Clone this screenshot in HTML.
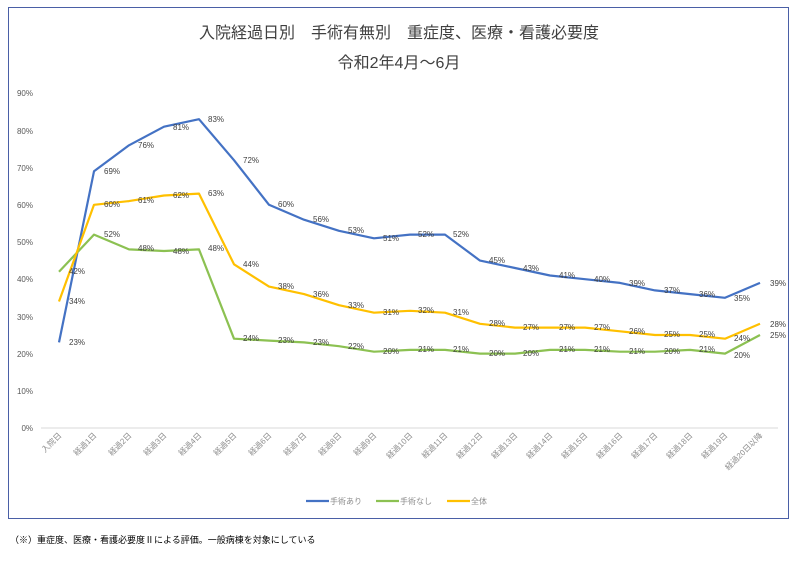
<!DOCTYPE html>
<html><head><meta charset="utf-8"><style>
body{margin:0;background:#fff;width:799px;height:560px;overflow:hidden}
svg text{font-family:"Liberation Sans","Noto Sans CJK JP",sans-serif}
</style></head><body>
<svg width="799" height="560" viewBox="0 0 799 560" xmlns="http://www.w3.org/2000/svg">
<rect x="8.5" y="7.5" width="780" height="511" fill="#fff" stroke="#4a5fa6" stroke-width="1"/>
<text x="399" y="38" font-size="16" text-anchor="middle" fill="#404040">入院経過日別　手術有無別　重症度、医療・看護必要度</text>
<text x="399" y="68" font-size="16" text-anchor="middle" fill="#404040">令和2年4月～6月</text>
<g font-size="8" fill="#595959" text-anchor="end">
<text x="33" y="96">90%</text><text x="33" y="134">80%</text><text x="33" y="171">70%</text>
<text x="33" y="208">60%</text><text x="33" y="245">50%</text><text x="33" y="282">40%</text>
<text x="33" y="320">30%</text><text x="33" y="357">20%</text><text x="33" y="394">10%</text>
<text x="33" y="431">0%</text>
</g>
<line x1="41" y1="428" x2="778" y2="428" stroke="#d9d9d9"/>
<g font-size="8" fill="#8c8c8c" text-anchor="end">
<text transform="translate(62,436) rotate(-45)">入院日</text>
<text transform="translate(97,436) rotate(-45)">経過1日</text>
<text transform="translate(132,436) rotate(-45)">経過2日</text>
<text transform="translate(167,436) rotate(-45)">経過3日</text>
<text transform="translate(202,436) rotate(-45)">経過4日</text>
<text transform="translate(237,436) rotate(-45)">経過5日</text>
<text transform="translate(272,436) rotate(-45)">経過6日</text>
<text transform="translate(307,436) rotate(-45)">経過7日</text>
<text transform="translate(342,436) rotate(-45)">経過8日</text>
<text transform="translate(377,436) rotate(-45)">経過9日</text>
<text transform="translate(413,436) rotate(-45)">経過10日</text>
<text transform="translate(448,436) rotate(-45)">経過11日</text>
<text transform="translate(483,436) rotate(-45)">経過12日</text>
<text transform="translate(518,436) rotate(-45)">経過13日</text>
<text transform="translate(553,436) rotate(-45)">経過14日</text>
<text transform="translate(588,436) rotate(-45)">経過15日</text>
<text transform="translate(623,436) rotate(-45)">経過16日</text>
<text transform="translate(658,436) rotate(-45)">経過17日</text>
<text transform="translate(693,436) rotate(-45)">経過18日</text>
<text transform="translate(728,436) rotate(-45)">経過19日</text>
<text transform="translate(763,436) rotate(-45)">経過20日以降</text>
</g>
<g fill="none" stroke-width="2.2" stroke-linejoin="round">
<polyline stroke="#4472c4" points="59,342.4 94,171.3 129,145.3 164,126.7 199,119.2 234,160.2 269,204.8 304,219.7 339,230.8 374,238.3 410,234.6 445,234.6 480,260.6 515,268 550,275.5 585,279.2 620,282.9 655,290.4 690,294.1 725,297.8 760,282.9"/>
<polyline stroke="#8cc152" stroke="#92d050" points="59,271.8 94,234.6 129,249.4 164,251 199,249.4 234,338.7 269,340.6 304,342.4 339,346.2 374,351.7 410,349.9 445,349.9 480,353.6 515,353.6 550,349.9 585,349.9 620,351.7 655,351.7 690,349.9 725,353.6 760,335"/>
<polyline stroke="#ffc000" points="59,301.5 94,204.8 129,201.1 164,195.5 199,193.6 234,264.3 269,286.6 304,294.1 339,305.2 374,312.7 410,310.8 445,312.7 480,323.8 515,327.6 550,327.6 585,327.6 620,331.3 655,335 690,335 725,338.7 760,323.8"/>
</g>
<g font-size="8" fill="#404040">
<text x="69" y="345">23%</text><text x="104" y="174">69%</text><text x="138" y="148">76%</text><text x="173" y="130">81%</text><text x="208" y="122">83%</text><text x="243" y="163">72%</text><text x="278" y="207">60%</text><text x="313" y="222">56%</text><text x="348" y="233">53%</text><text x="383" y="241">51%</text><text x="418" y="237">52%</text><text x="453" y="237">52%</text><text x="489" y="263">45%</text><text x="523" y="271">43%</text><text x="559" y="278">41%</text><text x="594" y="282">40%</text><text x="629" y="286">39%</text><text x="664" y="293">37%</text><text x="699" y="297">36%</text><text x="734" y="301">35%</text><text x="770" y="286">39%</text>
<text x="69" y="274">42%</text><text x="104" y="237">52%</text><text x="138" y="251">48%</text><text x="173" y="254">48%</text><text x="208" y="251">48%</text><text x="243" y="341">24%</text><text x="278" y="343">23%</text><text x="313" y="345">23%</text><text x="348" y="349">22%</text><text x="383" y="354">20%</text><text x="418" y="352">21%</text><text x="453" y="352">21%</text><text x="489" y="356">20%</text><text x="523" y="356">20%</text><text x="559" y="352">21%</text><text x="594" y="352">21%</text><text x="629" y="354">21%</text><text x="664" y="354">20%</text><text x="699" y="352">21%</text><text x="734" y="358">20%</text><text x="770" y="338">25%</text>
<text x="69" y="304">34%</text><text x="104" y="207">60%</text><text x="138" y="203">61%</text><text x="173" y="198">62%</text><text x="208" y="196">63%</text><text x="243" y="267">44%</text><text x="278" y="289">38%</text><text x="313" y="297">36%</text><text x="348" y="308">33%</text><text x="383" y="315">31%</text><text x="418" y="313">32%</text><text x="453" y="315">31%</text><text x="489" y="326">28%</text><text x="523" y="330">27%</text><text x="559" y="330">27%</text><text x="594" y="330">27%</text><text x="629" y="334">26%</text><text x="664" y="337">25%</text><text x="699" y="337">25%</text><text x="734" y="341">24%</text><text x="770" y="327">28%</text>
</g>
<g font-size="8" fill="#8c8c8c">
<line x1="306" y1="501" x2="329" y2="501" stroke="#4472c4" stroke-width="2.2"/><text x="330" y="504">手術あり</text>
<line x1="376" y1="501" x2="399" y2="501" stroke="#8cc152" stroke-width="2.2"/><text x="400" y="504">手術なし</text>
<line x1="447" y1="501" x2="470" y2="501" stroke="#ffc000" stroke-width="2.2"/><text x="471" y="504">全体</text>
</g>
<text x="10" y="543" font-size="9" fill="#000">（※）重症度、医療・看護必要度Ⅱによる評価。一般病棟を対象にしている</text>
</svg>
</body></html>
